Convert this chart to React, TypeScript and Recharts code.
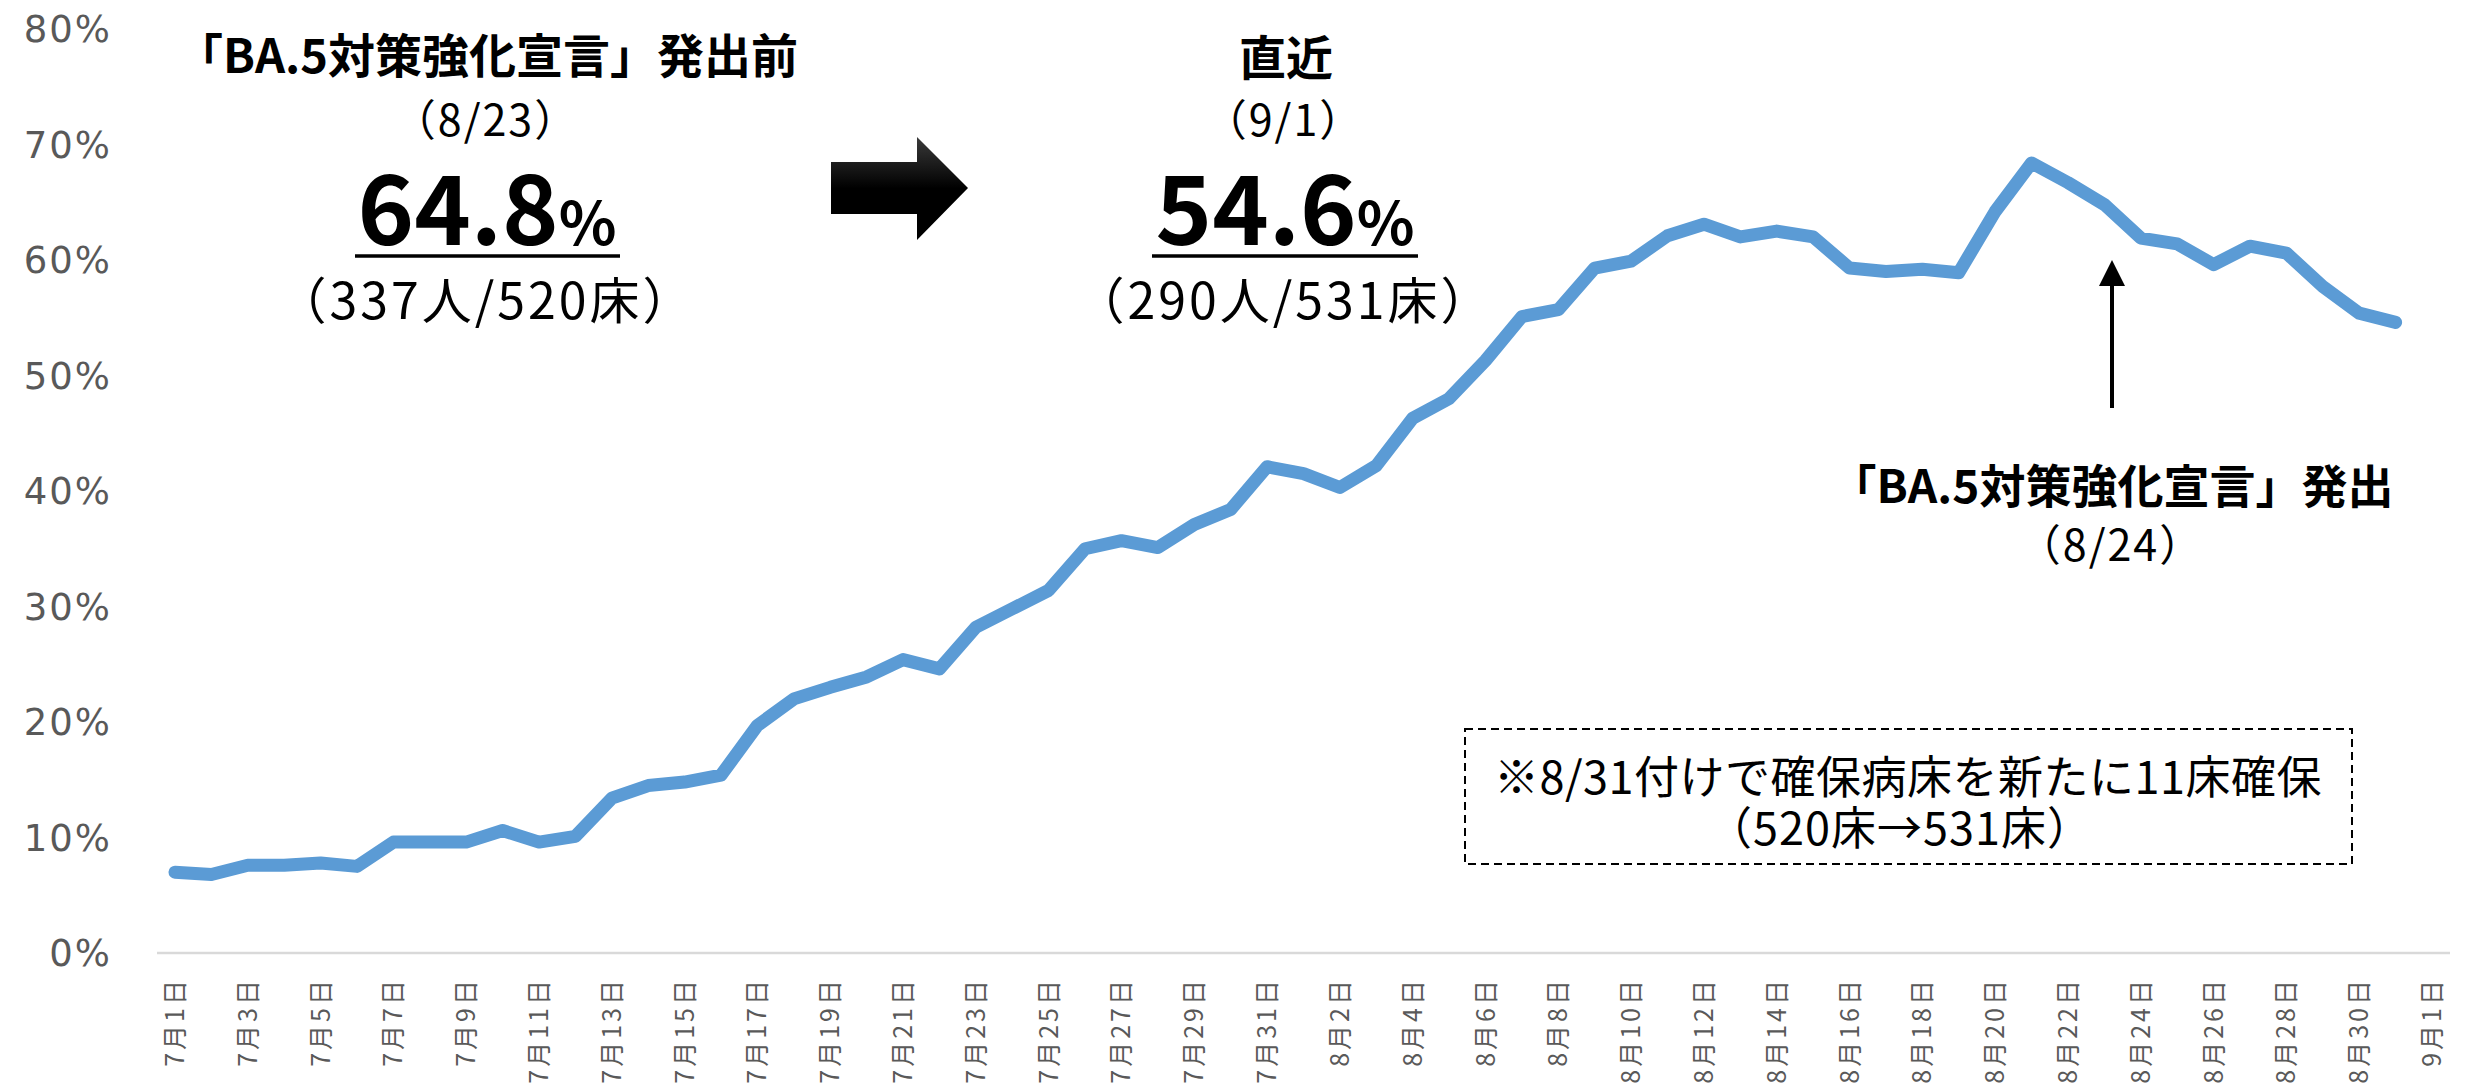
import React from "react";
import { LineChart, Line, XAxis, YAxis } from "recharts";

const categories = [
  "7月1日", "7月2日", "7月3日", "7月4日", "7月5日", "7月6日", "7月7日", "7月8日", "7月9日", "7月10日",
  "7月11日", "7月12日", "7月13日", "7月14日", "7月15日", "7月16日", "7月17日", "7月18日", "7月19日", "7月20日",
  "7月21日", "7月22日", "7月23日", "7月24日", "7月25日", "7月26日", "7月27日", "7月28日", "7月29日", "7月30日",
  "7月31日", "8月1日", "8月2日", "8月3日", "8月4日", "8月5日", "8月6日", "8月7日", "8月8日", "8月9日",
  "8月10日", "8月11日", "8月12日", "8月13日", "8月14日", "8月15日", "8月16日", "8月17日", "8月18日", "8月19日",
  "8月20日", "8月21日", "8月22日", "8月23日", "8月24日", "8月25日", "8月26日", "8月27日", "8月28日", "8月29日",
  "8月30日", "8月31日", "9月1日",
];

const occupancy: (number | null)[] = [
  7.0, 6.8, 7.6, 7.6, 7.8, 7.5, 9.6, 9.6, 9.6, 10.6,
  9.6, 10.1, 13.4, 14.5, 14.8, 15.4, 19.7, 22.0, 23.0, 23.9,
  25.4, 24.6, 28.2, 29.8, 31.4, 35.0, 35.7, 35.1, 37.1, 38.4,
  42.1, 41.5, 40.3, 42.2, 46.3, 48.0, 51.3, 55.1, 55.7, 59.3,
  59.9, 62.1, 63.1, 62.0, 62.5, 62.0, 59.3, 59.0, 59.2, 58.9,
  64.2, 68.4, 66.7, 64.8, 61.9, 61.4, 59.6, 61.2, 60.6, 57.7,
  55.4, 54.6, null,
];

const yTicks = [0, 10, 20, 30, 40, 50, 60, 70, 80];

const beforeTitle = "「BA.5対策強化宣言」発出前";
const beforeDate = "（8/23）";
const beforeValue = "64.8";
const beforeCount = "（337人/520床）";
const latestTitle = "直近";
const latestDate = "（9/1）";
const latestValue = "54.6";
const latestCount = "（290人/531床）";
const issueTitle = "「BA.5対策強化宣言」発出";
const issueDate = "（8/24）";
const noteLine1 = "※8/31付けで確保病床を新たに11床確保";
const noteLine2 = "（520床→531床）";

const data = categories.map((c, i) => ({ date: c, rate: occupancy[i] }));

const W = 2471;
const H = 1085;
const JP = "'Noto Sans CJK JP', 'Noto Sans', sans-serif";

const XTick = (props: any) => {
  const { x, y, payload } = props;
  const ty = y + 16;
  return (
    <text
      x={x}
      y={ty}
      transform={`rotate(-90, ${x}, ${ty})`}
      textAnchor="end"
      dy="0.36em"
      fontFamily={JP}
      fontSize={25}
      letterSpacing={3}
      fill="#595959"
    >
      {payload.value}
    </text>
  );
};

const BigValue = ({ cx, value, x1, x2 }: { cx: number; value: string; x1: number; x2: number }) => (
  <g>
    <text x={cx} y={245} textAnchor="middle" fontFamily={JP} fontWeight={700} fill="#000">
      <tspan fontSize={96}>{value}</tspan>
      <tspan fontSize={60}>%</tspan>
    </text>
    <line x1={x1} x2={x2} y1={256} y2={256} stroke="#000" strokeWidth={3.5} />
  </g>
);

const Overlay = () => (
  <svg width={W} height={H} style={{ position: "absolute", left: 0, top: 0, pointerEvents: "none" }}>
    <defs>
      <linearGradient id="arrowGrad" x1="0" y1="0" x2="0" y2="1">
        <stop offset="0" stopColor="#3a3a3a" />
        <stop offset="0.5" stopColor="#000" />
        <stop offset="1" stopColor="#000" />
      </linearGradient>
    </defs>
    {/* before */}
    <text x={487} y={52} textAnchor="middle" dominantBaseline="central" fontFamily={JP} fontWeight={700} fontSize={47} fill="#000">
      {beforeTitle}
    </text>
    <text x={486} y={117} textAnchor="middle" dominantBaseline="central" fontFamily={JP} fontSize={43} letterSpacing={2} fill="#000">
      {beforeDate}
    </text>
    <BigValue cx={487} value={beforeValue} x1={355} x2={620} />
    <text x={486} y={297} textAnchor="middle" dominantBaseline="central" fontFamily={JP} fontSize={50} letterSpacing={3} fill="#000">
      {beforeCount}
    </text>

    {/* block arrow */}
    <polygon points="831,162 917,162 917,137 968,188 917,240 917,214 831,214" fill="url(#arrowGrad)" />

    {/* latest */}
    <text x={1286} y={54} textAnchor="middle" dominantBaseline="central" fontFamily={JP} fontWeight={700} fontSize={47} fill="#000">
      {latestTitle}
    </text>
    <text x={1284} y={117} textAnchor="middle" dominantBaseline="central" fontFamily={JP} fontSize={43} letterSpacing={2} fill="#000">
      {latestDate}
    </text>
    <BigValue cx={1285} value={latestValue} x1={1152} x2={1418} />
    <text x={1284} y={297} textAnchor="middle" dominantBaseline="central" fontFamily={JP} fontSize={50} letterSpacing={3} fill="#000">
      {latestCount}
    </text>

    {/* issue arrow */}
    <line x1={2112} x2={2112} y1={408} y2={282} stroke="#000" strokeWidth={4} />
    <polygon points="2112,260 2125,286 2099,286" fill="#000" />
    <text x={2112} y={483} textAnchor="middle" dominantBaseline="central" fontFamily={JP} fontWeight={700} fontSize={46} fill="#000">
      {issueTitle}
    </text>
    <text x={2111} y={542} textAnchor="middle" dominantBaseline="central" fontFamily={JP} fontSize={43} letterSpacing={2} fill="#000">
      {issueDate}
    </text>

    {/* note box */}
    <rect x={1465} y={729} width={887} height={135} fill="none" stroke="#000" strokeWidth={2} strokeDasharray="8 5" />
    <text x={1908} y={774} textAnchor="middle" dominantBaseline="central" fontFamily={JP} fontSize={45} letterSpacing={0.5} fill="#000">
      {noteLine1}
    </text>
    <text x={1900} y={825} textAnchor="middle" dominantBaseline="central" fontFamily={JP} fontSize={45} letterSpacing={1} fill="#000">
      {noteLine2}
    </text>
  </svg>
);

export default function App() {
  return (
    <div style={{ position: "absolute", left: 0, top: 0, width: W, height: H, background: "#fff", overflow: "hidden" }}>
      <LineChart width={W} height={H} data={data} margin={{ top: 29, right: 21, bottom: 0, left: 0 }}>
        <XAxis
          dataKey="date"
          interval={1}
          height={132}
          padding={{ left: 18, right: 18 }}
          tickLine={false}
          axisLine={{ stroke: "#d9d9d9", strokeWidth: 2.5 }}
          tick={<XTick />}
        />
        <YAxis
          domain={[0, 80]}
          ticks={yTicks}
          width={157}
          axisLine={false}
          tickLine={false}
          tickMargin={39}
          tickFormatter={(v: number) => `${v}%`}
          tick={{ fill: "#595959", fontSize: 37, letterSpacing: 2, fontFamily: "'DejaVu Sans', sans-serif" }}
        />
        <Line
          dataKey="rate"
          stroke="#5b9bd5"
          strokeWidth={13}
          strokeLinecap="round"
          strokeLinejoin="round"
          dot={false}
          activeDot={false}
          isAnimationActive={false}
        />
      </LineChart>
      <Overlay />
    </div>
  );
}
